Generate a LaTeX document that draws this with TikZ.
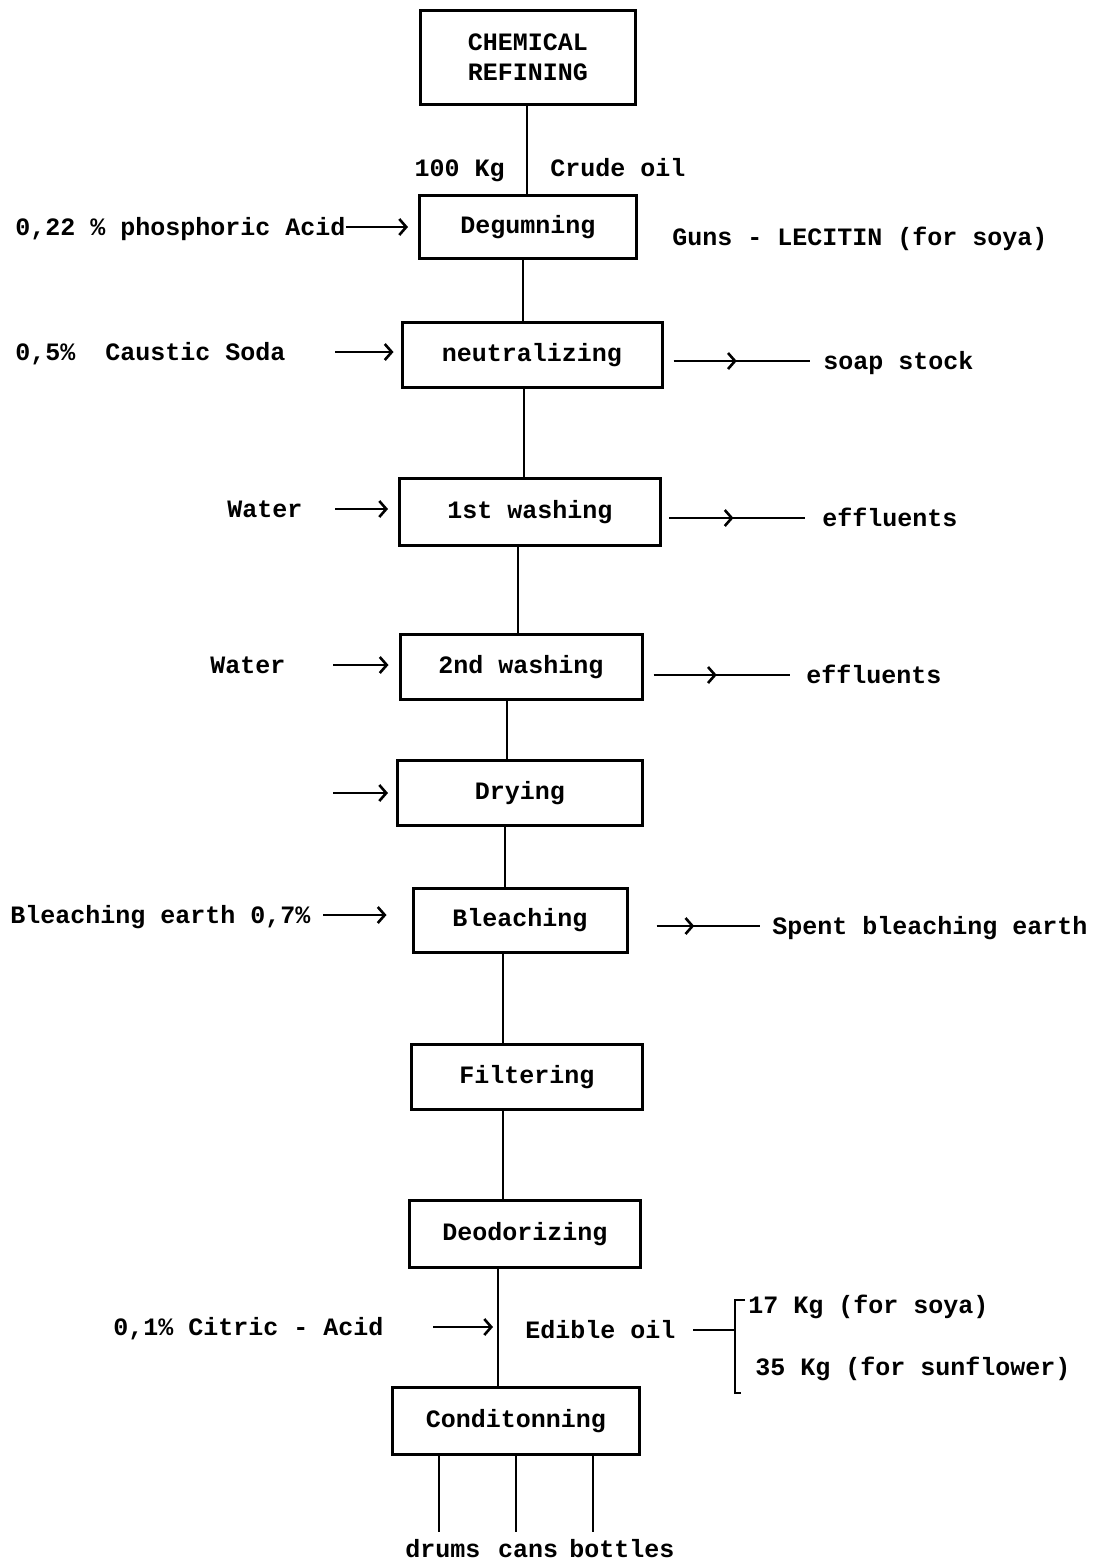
\documentclass[tikz,border=0pt]{standalone}
\usepackage{fontspec}
\setmonofont{Liberation Mono}
\usetikzlibrary{arrows.meta,decorations.markings,positioning}

\tikzset{
  stage/.style={draw, line width=1.5pt, inner sep=0pt, align=center,
    font=\ttfamily\bfseries\fontsize{12.5}{15}\selectfont},
  lbl/.style={inner sep=0pt, font=\ttfamily\bfseries\fontsize{12.5}{15}\selectfont},
  flow/.style={line width=1.4pt},
  inarr/.style={flow, -{Straight Barb[length=3.5pt,width=8pt,line width=1.3pt]}},
  outarr/.style={flow, decoration={markings, mark=at position 0.5 with
    {\arrow{Straight Barb[length=3.5pt,width=8pt,line width=1.3pt]}}}, postaction=decorate}
}

\begin{document}
\begin{tikzpicture}[x=0.5pt, y=-0.5pt]
\useasboundingbox (0,0) rectangle (1099,1565);

% process stages
\node[stage, minimum width=107.5pt, minimum height=47pt] (chem) at (528,57) {CHEMICAL\\REFINING};
\node[stage, minimum width=108.5pt, minimum height=31.5pt] (deg) at (528,227) {Degumning};
\node[stage, minimum width=130pt, minimum height=32.5pt] (neu) at (532,355) {neutralizing};
\node[stage, minimum width=130.5pt, minimum height=33.5pt] (wash1) at (530,512) {1st washing};
\node[stage, minimum width=121pt, minimum height=32.5pt] (wash2) at (521,667) {2nd washing};
\node[stage, minimum width=122.5pt, minimum height=32.5pt] (dry) at (520,793) {Drying};
\node[stage, minimum width=107pt, minimum height=32pt] (bleach) at (520,920) {Bleaching};
\node[stage, minimum width=115.5pt, minimum height=32.5pt] (filt) at (527,1077) {Filtering};
\node[stage, minimum width=115.5pt, minimum height=33.5pt] (deo) at (525,1234) {Deodorizing};
\node[stage, minimum width=123.5pt, minimum height=33.5pt] (cond) at (516,1421) {Conditonning};

% main line
\coordinate (m1) at (527,0); \coordinate (m2) at (523,0); \coordinate (m3) at (524,0);
\coordinate (m4) at (518,0); \coordinate (m5) at (507,0); \coordinate (m6) at (505,0);
\coordinate (m7) at (503,0); \coordinate (m8) at (498,0);
\draw[flow] (chem.south -| m1) -- (deg.north -| m1);
\draw[flow] (deg.south -| m2) -- (neu.north -| m2);
\draw[flow] (neu.south -| m3) -- (wash1.north -| m3);
\draw[flow] (wash1.south -| m4) -- (wash2.north -| m4);
\draw[flow] (wash2.south -| m5) -- (dry.north -| m5);
\draw[flow] (dry.south -| m6) -- (bleach.north -| m6);
\draw[flow] (bleach.south -| m7) -- (filt.north -| m7);
\draw[flow] (filt.south -| m7) -- (deo.north -| m7);
\draw[flow] (deo.south -| m8) -- (cond.north -| m8);

\node[lbl, anchor=base east] (kg) at (505,176) {100 Kg};
\node[lbl, anchor=base west] (crude) at (550,176) {Crude oil};

% inputs
\node[lbl, anchor=base west] (phos) at (15,235) {0,22 \% phosphoric Acid};
\draw[inarr, shorten >=5pt] (phos.east |- deg.west) -- (deg.west);
\node[lbl, anchor=base west] (soda) at (15,360) {0,5\%\ \ Caustic Soda};
\coordinate (soda0) at (335,352);
\draw[inarr, shorten >=3.5pt] (soda0) -- (soda0 -| neu.west);
\node[lbl, anchor=base west] (water1) at (227,517) {Water};
\coordinate (water10) at (335,509);
\draw[inarr, shorten >=5pt] (water10) -- (water10 -| wash1.west);
\node[lbl, anchor=base west] (water2) at (210,673) {Water};
\coordinate (water20) at (333,665);
\draw[inarr, shorten >=5pt] (water20) -- (water20 -| wash2.west);
\coordinate (dry0) at (333,793);
\draw[inarr, shorten >=4pt] (dry0) -- (dry.west);
\node[lbl, anchor=base west] (earth) at (10,923) {Bleaching earth 0,7\%};
\coordinate (earth0) at (323,915);
\draw[inarr, shorten >=12.5pt] (earth0) -- (earth0 -| bleach.west);
\node[lbl, anchor=base west] (citric) at (113,1335) {0,1\% Citric - Acid};
\coordinate (citric0) at (433,1327);
\draw[inarr, shorten >=2.5pt] (citric0) -- (citric0 -| m8);

% outputs
\node[lbl, anchor=base west] (gums) at (672,245) {Guns - LECITIN (for soya)};
\node[lbl, anchor=base west] (soap) at (823,369) {soap stock};
\coordinate (soap0) at (810,361);
\draw[outarr, shorten <=5pt] (soap0 -| neu.east) -- (soap0);
\node[lbl, anchor=base west] (eff1) at (822,526) {effluents};
\coordinate (eff10) at (805,518);
\draw[outarr, shorten <=3.5pt] (eff10 -| wash1.east) -- (eff10);
\node[lbl, anchor=base west] (eff2) at (806,683) {effluents};
\coordinate (eff20) at (790,675);
\draw[outarr, shorten <=5pt] (eff20 -| wash2.east) -- (eff20);
\node[lbl, anchor=base west] (spent) at (772,934) {Spent bleaching earth};
\coordinate (spent0) at (760,926);
\draw[outarr, shorten <=14pt] (spent0 -| bleach.east) -- (spent0);

% edible oil split
\node[lbl, anchor=base west] (edible) at (525,1338) {Edible oil};
\coordinate (br) at (735,1330);
\draw[flow] (693,1330) -- (br);
\draw[flow] (745,1300) -- (735,1300) -- (735,1393) -- (741,1393);
\node[lbl, anchor=base west] (soya) at (748,1313) {17 Kg (for soya)};
\node[lbl, anchor=base west] (sunfl) at (755,1375) {35 Kg (for sunflower)};

% packaging
\coordinate (pk1) at (439,1532); \coordinate (pk2) at (516,1532); \coordinate (pk3) at (593,1532);
\foreach \p in {pk1,pk2,pk3}{\draw[flow] (cond.south -| \p) -- (\p);}
\node[lbl, anchor=base] (drums) at (443,1557) {drums};
\node[lbl, anchor=base] (cans) at (528,1557) {cans};
\node[lbl, anchor=base] (bottles) at (622,1557) {bottles};
\end{tikzpicture}
\end{document}
